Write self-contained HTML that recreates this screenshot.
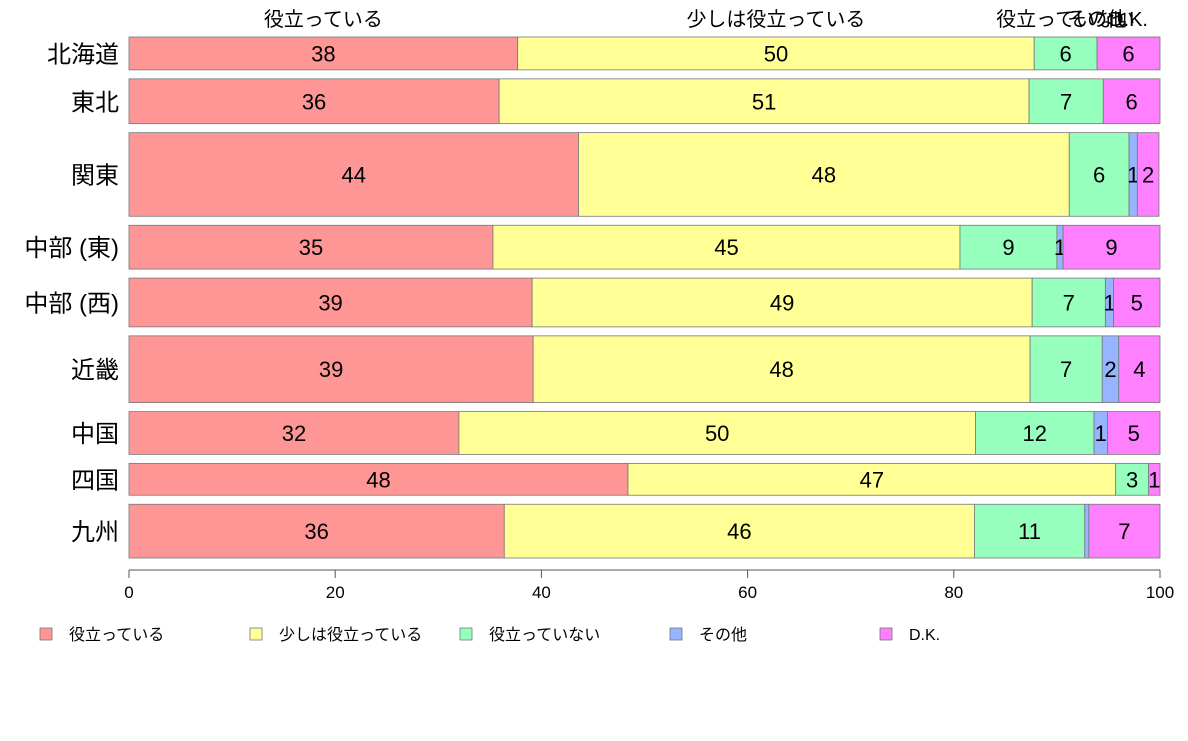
<!DOCTYPE html>
<html><head><meta charset="utf-8">
<style>
body{margin:0;background:#fff;width:1188px;height:736px;overflow:hidden}
text{font-family:"Liberation Sans","Noto Sans CJK JP",sans-serif}
</style></head>
<body>
<svg id="chart" width="1188" height="736" xmlns="http://www.w3.org/2000/svg"></svg>
<script>
const categories = ["北海道","東北","関東","中部 (東)","中部 (西)","近畿","中国","四国","九州"];
const seriesNames = ["役立っている","少しは役立っている","役立っていない","その他","D.K."];
const sampleSizes = [33,45,84,44,49,67,43,32,54];
const useful = [37.7,35.9,43.6,35.3,39.1,39.2,32.0,48.4,36.4];
const somewhat = [50.1,51.4,47.6,45.3,48.5,48.2,50.1,47.3,45.6];
const notUseful = [6.1,7.2,5.8,9.4,7.1,7.0,11.5,3.2,10.7];
const other = [0,0,0.8,0.6,0.8,1.6,1.3,0,0.4];
const dk = [6.1,5.5,2.1,9.4,4.5,4.0,5.1,1.1,6.9];
const xTicks = [0,20,40,60,80,100];
const colors = ["#FF9696","#FFFF96","#96FFBE","#96B4FF","#FF80FF"];

const svg = document.getElementById('chart');
const NS = "http://www.w3.org/2000/svg";
const x0 = 129, x1 = 1160, yTop = 37, yBot = 558, gap = 9;
const xs = v => x0 + (x1 - x0) * v / 100;
function mk(tag, attrs, txt){const e=document.createElementNS(NS,tag);for(const k in attrs)e.setAttribute(k,attrs[k]);if(txt!==undefined)e.textContent=txt;svg.appendChild(e);return e;}
const series = [useful,somewhat,notUseful,other,dk];
const totalN = sampleSizes.reduce((a,b)=>a+b,0);
const avail = (yBot - yTop) - gap*(categories.length-1);
let y = yTop;
const firstMids = [];
categories.forEach((cat,i)=>{
  const h = avail * sampleSizes[i] / totalN;
  let cum = 0;
  series.forEach((s,j)=>{
    const v = s[i];
    const xa = xs(cum), xb = xs(cum+v);
    if(i===0) firstMids.push((xa+xb)/2);
    if(v>0){
      const r = mk('rect',{x:xa,y:y,width:xb-xa,height:h,fill:colors[j],stroke:"#777","stroke-width":0.8});
      
      
      if(Math.round(v)>=1){
        const t = mk('text',{x:(xa+xb)/2,y:y+h/2+8,"text-anchor":"middle","font-size":22,fill:"#000"},String(Math.round(v)));
        
        
      }
    }
    cum += v;
  });
  const lab = mk('text',{x:119,y:y+h/2+9,"text-anchor":"end","font-size":24,fill:"#000"},cat);
  
  
  y += h + gap;
});
seriesNames.forEach((n,j)=>{
  const t = mk('text',{x:firstMids[j],y:26,"text-anchor":"middle","font-size":20,fill:"#000"},n);
  
  
});
const ax = mk('line',{x1:x0,x2:x1,y1:570,y2:570,stroke:"#555"});


xTicks.forEach(v=>{
  const l = mk('line',{x1:xs(v),x2:xs(v),y1:570,y2:578,stroke:"#555"});
  
  
  const t = mk('text',{x:xs(v),y:598,"text-anchor":"middle","font-size":17,fill:"#000"},String(v));
  
  
});
seriesNames.forEach((n,j)=>{
  const lx = 40 + j*210;
  const r = mk('rect',{x:lx,y:628,width:12,height:12,fill:colors[j],stroke:"#777","stroke-width":0.8});
  
  
  const t = mk('text',{x:lx+29,y:640,"font-size":16,fill:"#000"},n);
  
  
});
</script>
</body></html>
